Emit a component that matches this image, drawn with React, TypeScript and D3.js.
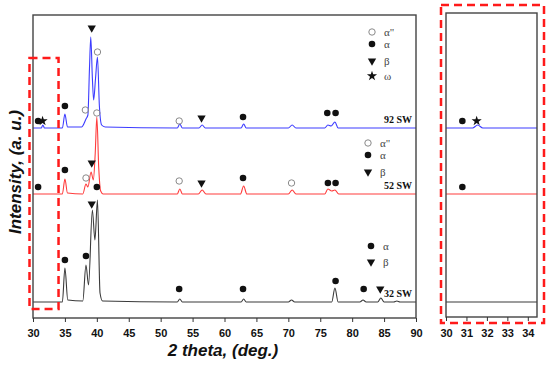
import React, { useEffect, useRef } from "react";
import * as d3 from "d3";

// x ticks for main plot and the inset
const xTicks = [30, 35, 40, 45, 50, 55, 60, 65, 70, 75, 80, 85, 90];
const insetTicks = [30, 31, 32, 33, 34];

// patterns: [2 theta, intensity (a.u., stacked)]
const sw92: [number, number][] = [
  [30, 190], [30.8, 190], [31.3, 190], [31.55, 193], [31.8, 190], [34.6, 190],
  [35.0, 204], [35.4, 191], [37.6, 191], [38.3, 199], [38.6, 203], [38.85, 250],
  [39.05, 281], [39.3, 240], [39.5, 218], [39.8, 240], [40.1, 261], [40.4, 212],
  [40.75, 193], [41.3, 191], [52.6, 190], [53.0, 194], [53.4, 190], [56.0, 190],
  [56.5, 193], [57.0, 190], [62.6, 190], [63.0, 194], [63.4, 190], [70.0, 190],
  [70.6, 193], [71.2, 190], [75.7, 190], [76.2, 193], [76.7, 192], [77.3, 196],
  [77.8, 190], [90, 190],
];
const sw52: [number, number][] = [
  [30, 124], [34.6, 124], [35.0, 139], [35.4, 125], [37.8, 124], [38.3, 134],
  [38.6, 131], [39.1, 146], [39.45, 138], [39.75, 165], [40.0, 201], [40.3, 150],
  [40.6, 127], [41.0, 124], [52.6, 124], [53.0, 129], [53.4, 124], [55.9, 124],
  [56.5, 128], [57.1, 124], [62.5, 124], [63.0, 132], [63.5, 124], [70.0, 124],
  [70.6, 128], [71.2, 124], [75.7, 124], [76.2, 129], [76.8, 127], [77.3, 128],
  [77.9, 124], [90, 124],
];
const sw32: [number, number][] = [
  [30, 16], [34.6, 16], [35.0, 50], [35.45, 18], [37.8, 17], [38.3, 53],
  [38.7, 33], [39.3, 108], [39.7, 78], [40.1, 118], [40.5, 25], [40.9, 17],
  [52.6, 16], [53.0, 19], [53.4, 16], [62.6, 16], [63.0, 19], [63.4, 16],
  [70.0, 16], [70.5, 18], [71.0, 16], [76.8, 16], [77.3, 30], [77.8, 16],
  [81.2, 16], [81.7, 18], [82.2, 16], [84.0, 16], [84.5, 20], [85.0, 16],
  [86.5, 16], [87.0, 17], [87.5, 16], [90, 16],
];

// phase markers: [phase, 2 theta, intensity]
const marks92: [string, number, number][] = [
  ["a", 30.8, 197], ["w", 31.5, 197], ["a", 35.0, 212], ["a2", 38.2, 208],
  ["b", 39.2, 290], ["a2", 40.1, 266], ["a2", 52.9, 197], ["b", 56.4, 200],
  ["a", 62.9, 201], ["a", 76.1, 205], ["a", 77.4, 205],
];
const marks52: [string, number, number][] = [
  ["a", 30.8, 131], ["a", 35.0, 148], ["a2", 38.3, 140], ["b", 39.2, 155],
  ["a2", 40.0, 205], ["a2", 52.9, 137], ["b", 56.4, 135], ["a", 62.9, 140],
  ["a2", 70.5, 135], ["a", 76.2, 135], ["a", 77.4, 135],
];
const marks32: [string, number, number][] = [
  ["a", 35.0, 58], ["a", 38.3, 62], ["b", 39.2, 114], ["a", 40.0, 131],
  ["a", 52.9, 29], ["a", 62.9, 29], ["a", 77.4, 37], ["a", 81.8, 29],
  ["b", 84.4, 29],
];

const seriesNames = ["92 SW", "52 SW", "32 SW"];
const seriesColors = ["#3c3cff", "#ff3c3c", "#3a3a3a"];
const baselines = [190, 124, 16];

const legend92: [string, string][] = [["a2", "α\""], ["a", "α"], ["b", "β"], ["w", "ω"]];
const legend52: [string, string][] = [["a2", "α\""], ["a", "α"], ["b", "β"]];
const legend32: [string, string][] = [["a", "α"], ["b", "β"]];

export default function App() {
  const ref = useRef<SVGSVGElement>(null);

  useEffect(() => {
    const svg = d3.select(ref.current);
    svg.selectAll("*").remove();

    const m = { left: 33, right: 416, top: 15, bottom: 318 };
    const inset = { left: 446, right: 537, top: 13, bottom: 317 };

    const x = d3.scaleLinear().domain([30, 90]).range([m.left, m.right]);
    const xi = d3.scaleLinear().domain([30, 34.45]).range([inset.left, inset.right]);
    const y = d3.scaleLinear().domain([0, 303]).range([m.bottom, m.top]);

    svg.append("rect").attr("width", 550).attr("height", 366).attr("fill", "#fff");

    const defs = svg.append("defs");
    defs.append("clipPath").attr("id", "clipMain").append("rect")
      .attr("x", m.left).attr("y", m.top).attr("width", m.right - m.left).attr("height", m.bottom - m.top);
    defs.append("clipPath").attr("id", "clipInset").append("rect")
      .attr("x", inset.left).attr("y", inset.top).attr("width", inset.right - inset.left).attr("height", inset.bottom - inset.top);

    const drawSym = (g: any, type: string, cx: number, cy: number) => {
      if (type === "a2") {
        g.append("circle").attr("cx", cx).attr("cy", cy).attr("r", 3.2)
          .attr("fill", "none").attr("stroke", "#8a8a8a").attr("stroke-width", 1);
        return;
      }
      const t = type === "a" ? d3.symbolCircle : type === "b" ? d3.symbolTriangle : d3.symbolStar;
      const size = type === "a" ? 34 : type === "b" ? 30 : 32;
      g.append("path")
        .attr("d", d3.symbol().type(t).size(size)())
        .attr("transform", `translate(${cx},${cy})${type === "b" ? " rotate(180)" : ""}`)
        .attr("fill", "#111");
    };

    const series = [sw92, sw52, sw32];
    const marks = [marks92, marks52, marks32];

    // main patterns
    const line = d3.line<[number, number]>().x((d) => x(d[0])).y((d) => y(d[1])).curve(d3.curveMonotoneX);
    const main = svg.append("g").attr("clip-path", "url(#clipMain)");
    series.forEach((s, i) => {
      main.append("path").attr("d", line(s)).attr("fill", "none")
        .attr("stroke", seriesColors[i]).attr("stroke-width", 1.1);
    });

    // frame + axis
    svg.append("rect").attr("x", m.left).attr("y", m.top)
      .attr("width", m.right - m.left).attr("height", m.bottom - m.top)
      .attr("fill", "none").attr("stroke", "#444").attr("stroke-width", 1.4);

    const ax = svg.append("g").attr("transform", `translate(0,${m.bottom})`)
      .call(d3.axisBottom(x).tickValues(xTicks).tickSize(4).tickSizeOuter(0).tickPadding(7));
    ax.select(".domain").remove();
    ax.selectAll("line").attr("stroke", "#333");
    ax.attr("font-family", "'Liberation Sans', Arial, sans-serif").attr("font-size", 11).attr("font-weight", "bold");
    ax.selectAll("text").attr("fill", "#111");

    // markers
    marks.forEach((ms) => {
      ms.forEach((d) => drawSym(svg, d[0], x(d[1]), y(d[2])));
    });

    // series names
    seriesNames.forEach((n, i) => {
      svg.append("text").attr("x", 412).attr("y", y(baselines[i]) - 5)
        .attr("text-anchor", "end").attr("font-family", "'Liberation Serif', 'Times New Roman', serif")
        .attr("font-weight", "bold").attr("font-size", 10).attr("fill", "#111").text(n);
    });

    // legends
    const drawLegend = (items: [string, string][], sx: number, rows: number[]) => {
      items.forEach((it, i) => {
        drawSym(svg, it[0], sx, rows[i]);
        svg.append("text").attr("x", sx + 12).attr("y", rows[i] + 3.5)
          .attr("font-family", "'Liberation Serif', 'Times New Roman', serif")
          .attr("font-size", 11).attr("fill", "#444").text(it[1]);
      });
    };
    drawLegend(legend92, 372, [32, 44, 61, 76]);
    drawLegend(legend52, 368, [143, 155, 172]);
    drawLegend(legend32, 371, [246, 262]);

    // dashed box on main plot
    svg.append("rect").attr("x", x(30) - 3.5).attr("y", 58)
      .attr("width", x(34) - x(30) + 3.5).attr("height", 309 - 58)
      .attr("fill", "none").attr("stroke", "#ff1a1a").attr("stroke-width", 2.5)
      .attr("stroke-dasharray", "8,5");

    // inset
    const lineI = d3.line<[number, number]>().x((d) => xi(d[0])).y((d) => y(d[1])).curve(d3.curveMonotoneX);
    const ins = svg.append("g").attr("clip-path", "url(#clipInset)");
    series.forEach((s, i) => {
      ins.append("path").attr("d", lineI(s.filter((d) => d[0] <= 35))).attr("fill", "none")
        .attr("stroke", seriesColors[i]).attr("stroke-width", 1.1);
    });
    svg.append("rect").attr("x", inset.left).attr("y", inset.top)
      .attr("width", inset.right - inset.left).attr("height", inset.bottom - inset.top)
      .attr("fill", "none").attr("stroke", "#444").attr("stroke-width", 1.4);
    const axi = svg.append("g").attr("transform", `translate(0,${inset.bottom})`)
      .call(d3.axisBottom(xi).tickValues(insetTicks).tickFormat(d3.format("d")).tickSize(4).tickSizeOuter(0).tickPadding(8));
    axi.select(".domain").remove();
    axi.selectAll("line").attr("stroke", "#333");
    axi.attr("font-family", "'Liberation Sans', Arial, sans-serif").attr("font-size", 11).attr("font-weight", "bold");
    axi.selectAll("text").attr("fill", "#111");
    marks.forEach((ms) => {
      ms.filter((d) => d[1] < 34.4).forEach((d) => drawSym(svg, d[0], xi(d[1]), y(d[2])));
    });
    svg.append("rect").attr("x", 441).attr("y", 5).attr("width", 103).attr("height", 318)
      .attr("fill", "none").attr("stroke", "#ff1a1a").attr("stroke-width", 2.5)
      .attr("stroke-dasharray", "8,5");

    // titles
    svg.append("text").attr("x", 223).attr("y", 356).attr("text-anchor", "middle")
      .attr("font-family", "'Liberation Sans', Arial, sans-serif").attr("font-weight", "bold")
      .attr("font-style", "italic").attr("font-size", 17).attr("fill", "#111")
      .text("2 theta, (deg.)");
    svg.append("text").attr("transform", "translate(21,172) rotate(-90)").attr("text-anchor", "middle")
      .attr("font-family", "'Liberation Sans', Arial, sans-serif").attr("font-weight", "bold")
      .attr("font-style", "italic").attr("font-size", 17).attr("fill", "#111")
      .text("Intensity, (a. u.)");
  }, []);

  return (
    <svg ref={ref} width={550} height={366} style={{ position: "absolute", left: 0, top: 0 }} />
  );
}
